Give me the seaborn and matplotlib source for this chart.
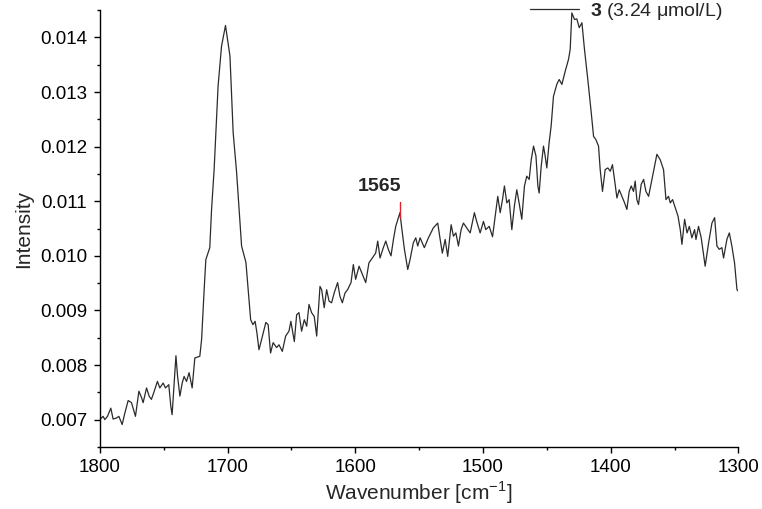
import numpy as np
import pandas as pd
import matplotlib
matplotlib.use("Agg")
import matplotlib.pyplot as plt
from matplotlib.ticker import MultipleLocator, FormatStrFormatter
import seaborn as sns

# Spectrum of compound 3 (3.24 umol/L)
wavenumber = [
    1800.0, 1797.4, 1796.1, 1794.0, 1791.4, 1789.6, 1786.9, 1785.1, 1782.5, 1780.4,
    1777.8, 1775.2, 1772.1, 1769.4, 1767.3, 1766.1, 1763.4, 1761.4, 1759.6, 1757.4,
    1754.9, 1753.0, 1750.4, 1748.6, 1746.0, 1744.4, 1743.4, 1741.8, 1740.4, 1739.1,
    1737.3, 1735.5, 1734.0, 1732.1, 1730.1, 1727.7, 1725.6, 1721.7, 1720.3, 1718.3,
    1717.0, 1713.9, 1712.5, 1710.5, 1707.4, 1704.7, 1701.6, 1698.1, 1695.6, 1692.9,
    1689.0, 1685.6, 1683.8, 1681.9, 1680.1, 1678.4, 1677.0, 1675.4, 1673.3, 1670.0,
    1668.2, 1666.3, 1664.3, 1661.6, 1659.7, 1657.1, 1654.5, 1651.9, 1650.4, 1647.7,
    1645.9, 1644.1, 1642.0, 1639.9, 1638.0, 1636.2, 1634.2, 1632.1, 1630.2, 1627.6,
    1626.3, 1624.3, 1622.4, 1620.5, 1618.5, 1616.5, 1613.8, 1612.0, 1610.1, 1608.0,
    1606.0, 1603.3, 1601.5, 1599.7, 1597.0, 1594.4, 1591.8, 1589.3, 1586.7, 1584.0,
    1582.4, 1580.6, 1578.0, 1576.1, 1574.1, 1572.0, 1570.1, 1568.3, 1565.0, 1563.6,
    1561.5, 1558.9, 1557.1, 1554.5, 1552.6, 1551.1, 1549.2, 1545.9, 1542.7, 1538.9,
    1535.4, 1533.5, 1531.8, 1529.6, 1527.6, 1524.9, 1523.1, 1521.2, 1519.2, 1517.1,
    1515.3, 1512.7, 1510.0, 1506.7, 1504.9, 1502.2, 1499.6, 1497.8, 1495.1, 1492.5,
    1490.4, 1488.4, 1486.5, 1484.7, 1483.2, 1481.3, 1479.5, 1477.4, 1475.4, 1473.5,
    1471.7, 1469.6, 1467.5, 1465.7, 1463.8, 1462.2, 1460.4, 1458.5, 1457.0, 1456.0,
    1454.4, 1452.6, 1451.3, 1450.0, 1448.2, 1446.6, 1444.8, 1442.2, 1440.3, 1438.2,
    1435.6, 1433.0, 1431.7, 1430.4, 1428.3, 1426.5, 1424.6, 1422.5, 1420.5, 1417.9,
    1415.2, 1413.4, 1411.6, 1409.5, 1408.2, 1406.4, 1404.3, 1402.2, 1400.3, 1398.6,
    1397.0, 1395.1, 1393.3, 1391.2, 1389.1, 1387.3, 1385.5, 1383.9, 1382.1, 1380.8,
    1379.5, 1378.2, 1376.1, 1374.2, 1372.4, 1370.3, 1367.7, 1365.6, 1363.8, 1361.2,
    1358.6, 1356.7, 1354.7, 1353.3, 1351.5, 1349.4, 1347.3, 1345.5, 1344.2, 1342.1,
    1340.2, 1338.4, 1336.4, 1334.3, 1333.2, 1331.2, 1329.1, 1326.0, 1323.3, 1320.7,
    1318.6, 1316.8, 1315.0, 1312.9, 1311.6, 1309.0, 1307.1, 1305.1, 1303.0, 1301.1,
    1300.0,
]
intensity = [
    0.00700, 0.00706, 0.00700, 0.00706, 0.00721, 0.00701, 0.00703, 0.00706, 0.00691, 0.00712,
    0.00735, 0.00731, 0.00706, 0.00752, 0.00740, 0.00731, 0.00758, 0.00743, 0.00737, 0.00752,
    0.00770, 0.00758, 0.00767, 0.00758, 0.00764, 0.00724, 0.00709, 0.00767, 0.00817, 0.00779,
    0.00743, 0.00767, 0.00779, 0.00770, 0.00786, 0.00758, 0.00813, 0.00816, 0.00847, 0.00938,
    0.00993, 0.01015, 0.01085, 0.01158, 0.01311, 0.01384, 0.01422, 0.01366, 0.01226, 0.01153,
    0.01018, 0.00988, 0.00938, 0.00883, 0.00874, 0.00880, 0.00859, 0.00828, 0.00847, 0.00878,
    0.00874, 0.00822, 0.00841, 0.00832, 0.00837, 0.00825, 0.00853, 0.00862, 0.00880, 0.00843,
    0.00892, 0.00896, 0.00862, 0.00883, 0.00871, 0.00911, 0.00896, 0.00889, 0.00853, 0.00944,
    0.00938, 0.00905, 0.00938, 0.00917, 0.00914, 0.00932, 0.00951, 0.00926, 0.00914, 0.00932,
    0.00938, 0.00951, 0.00984, 0.00957, 0.00981, 0.00966, 0.00951, 0.00987, 0.00996, 0.01005,
    0.01027, 0.00996, 0.01015, 0.01027, 0.01012, 0.01000, 0.01030, 0.01054, 0.01079, 0.01051,
    0.01012, 0.00975, 0.00993, 0.01024, 0.01033, 0.01018, 0.01033, 0.01015, 0.01033, 0.01051,
    0.01060, 0.01030, 0.01005, 0.01030, 0.00999, 0.01057, 0.01036, 0.01042, 0.01018, 0.01048,
    0.01060, 0.01051, 0.01042, 0.01079, 0.01063, 0.01042, 0.01063, 0.01048, 0.01054, 0.01035,
    0.01073, 0.01109, 0.01079, 0.01103, 0.01128, 0.01097, 0.01103, 0.01048, 0.01091, 0.01121,
    0.01097, 0.01067, 0.01128, 0.01146, 0.01140, 0.01176, 0.01201, 0.01183, 0.01128, 0.01115,
    0.01164, 0.01201, 0.01183, 0.01161, 0.01207, 0.01238, 0.01292, 0.01314, 0.01323, 0.01314,
    0.01338, 0.01360, 0.01378, 0.01445, 0.01433, 0.01434, 0.01418, 0.01427, 0.01378, 0.01323,
    0.01262, 0.01219, 0.01213, 0.01201, 0.01158, 0.01118, 0.01158, 0.01161, 0.01155, 0.01167,
    0.01140, 0.01106, 0.01121, 0.01109, 0.01097, 0.01085, 0.01118, 0.01128, 0.01118, 0.01137,
    0.01103, 0.01094, 0.01131, 0.01140, 0.01118, 0.01109, 0.01140, 0.01164, 0.01186, 0.01176,
    0.01158, 0.01103, 0.01109, 0.01097, 0.01103, 0.01088, 0.01073, 0.01048, 0.01021, 0.01067,
    0.01042, 0.01054, 0.01033, 0.01048, 0.01030, 0.01054, 0.01033, 0.00981, 0.01024, 0.01060,
    0.01070, 0.01018, 0.01012, 0.01015, 0.00996, 0.01030, 0.01042, 0.01018, 0.00987, 0.00938,
    0.00935,
]
peak_label = 1565
series_label = r"$\mathbf{3}$ (3.24 μmol/L)"

df = pd.DataFrame({"Wavenumber": wavenumber, "Intensity": intensity})

sns.set_style("ticks")
plt.rcParams["font.family"] = ["Liberation Sans", "DejaVu Sans"]
plt.rcParams["mathtext.fontset"] = "custom"
plt.rcParams["mathtext.bf"] = "Liberation Sans:bold"
plt.rcParams["mathtext.rm"] = "Liberation Sans"

fig = plt.figure(figsize=(7.62, 5.09), dpi=100)
ax = fig.add_axes([0.131, 0.122, 0.838, 0.858])

sns.lineplot(data=df, x="Wavenumber", y="Intensity", sort=False, ax=ax,
             color="#2b2b2b", linewidth=0.9, label=series_label)

ax.set_xlim(1800, 1300)
ax.set_ylim(0.0065, 0.0145)
ax.xaxis.set_major_locator(MultipleLocator(100))
ax.xaxis.set_minor_locator(MultipleLocator(50))
ax.yaxis.set_major_locator(MultipleLocator(0.001))
ax.yaxis.set_minor_locator(MultipleLocator(0.0005))
ax.yaxis.set_major_formatter(FormatStrFormatter("%.3f"))
ax.tick_params(which="major", direction="out", length=4, width=1, labelsize=13.5,
               colors="black", pad=5)
ax.tick_params(which="minor", direction="out", length=2.5, width=1, colors="black")

for side in ["top", "right"]:
    ax.spines[side].set_visible(False)
for side in ["left", "bottom"]:
    ax.spines[side].set_color("black")
    ax.spines[side].set_linewidth(1)

ax.set_xlabel("Wavenumber [cm$^{-1}$]", fontsize=15, labelpad=2)
ax.set_ylabel("Intensity", fontsize=15, labelpad=5)

# marker at the 1565 band
i_peak = wavenumber.index(float(peak_label))
y_peak = intensity[i_peak]
ax.plot([peak_label, peak_label], [y_peak - 0.0001, y_peak + 0.00019],
        color="#e0202a", linewidth=1)
ax.annotate(str(peak_label), xy=(peak_label, y_peak), xytext=(1, 13),
            textcoords="offset points", ha="right", va="bottom",
            fontsize=14, fontweight="bold")

leg = ax.legend(loc="center left", bbox_to_anchor=(0.674, 0.997), frameon=False,
                borderaxespad=0, borderpad=0, handlelength=2.5, handletextpad=0.6,
                fontsize=14)
for line in leg.get_lines():
    line.set_linewidth(0.9)

fig.savefig("out.png", dpi=100)
